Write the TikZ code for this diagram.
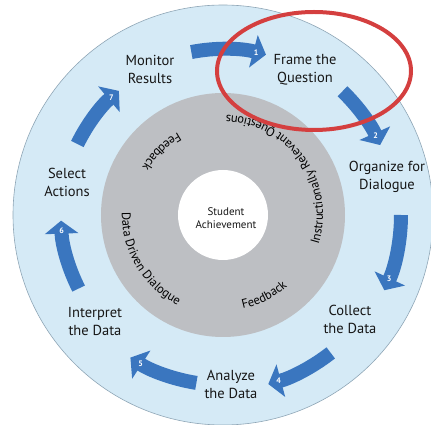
\documentclass[tikz,border=0pt]{standalone}
\usepackage{fontspec}
\setmainfont{PT Sans}
\usetikzlibrary{arrows.meta, decorations.text}

\definecolor{discblue}{HTML}{D5EAF6}
\definecolor{discedge}{HTML}{8FA6B6}
\definecolor{ringgray}{HTML}{BDBFC3}
\definecolor{stepblue}{HTML}{3A76BF}
\definecolor{markred}{HTML}{D43F3F}
\definecolor{labelink}{HTML}{161616}

\tikzset{
	steplabel/.style = {align = center, text = labelink, font = \fontsize{14.5}{18}\selectfont},
	cyclearrow/.style = {draw = stepblue, line width = 14pt, -{Triangle[length = 13pt, width = 33pt]}},
	stepnum/.style = {text = white, font = \fontsize{8}{8}\selectfont\bfseries, inner sep = 0pt},
	ringtext/.style = {decorate, decoration = {text along path, text align = center, text color = black}}
}

\begin{document}
\begin{tikzpicture}[x = 1pt, y = 1pt]

	\useasboundingbox (-223, -210) rectangle (208, 215);
	
	% Discs
	
	\fill [discblue, draw = discedge, line width = 0.6pt] (0, 0) circle (210pt);
	\fill [ringgray] (0, 0) circle (122pt);
	\fill [white] (0, 0) circle (45pt);
	
	% Text round the gray ring
	
	\path [ringtext, decoration = {text = {|\fontsize{12.5}{14}\selectfont|Instructionally Relevant Questions}}]
		(-55:100pt) arc [start angle = -55, end angle = 126, radius = 100pt];
	\path [ringtext, decoration = {text = {|\fontsize{12.5}{14}\selectfont|Feedback}}]
		(94:94pt) arc [start angle = 94, end angle = 174, radius = 94pt];
	\path [ringtext, decoration = {text = {|\fontsize{12.5}{14}\selectfont|Data Driven Dialogue}}]
		(150:101pt) arc [start angle = 150, end angle = 272, radius = 101pt];
	\path [ringtext, decoration = {text = {|\fontsize{12.5}{14}\selectfont|Feedback}}]
		(-103:96pt) arc [start angle = -103, end angle = -23, radius = 96pt];
	
	% Centre
	
	\node (student) [align = center, text = labelink, font = \fontsize{11}{13}\selectfont] at (3, -3) {Student\\Achievement};
	
	% Steps of the cycle
	
	\node (frame) [steplabel] at (82, 145) {Frame the\\Question};
	\node (organize) [steplabel] at (164, 38) {Organize for\\Dialogue};
	\node (collect) [steplabel] at (127, -104) {Collect\\the Data};
	\node (analyze) [steplabel] at (8, -169) {Analyze\\the Data};
	\node (interpret) [steplabel] at (-128, -107) {Interpret\\the Data};
	\node (select) [steplabel] at (-156, 33) {Select\\Actions};
	\node (monitor) [steplabel] at (-73, 146) {Monitor\\Results};
	
	% Arrows between the steps
	
	\coordinate (a1) at (101:166pt);
	\coordinate (a2) at (46:172pt);
	\coordinate (a3) at (0:178pt);
	\coordinate (a4) at (-52:175pt);
	\coordinate (a5) at (-99:170pt);
	\coordinate (a6) at (-153:162pt);
	\coordinate (a7) at (154:162pt);
	
	\draw [cyclearrow] (a1) arc [start angle = 101, end angle = 75, radius = 166pt];
	\draw [cyclearrow] (a2) arc [start angle = 46, end angle = 24, radius = 172pt];
	\draw [cyclearrow] (a3) arc [start angle = 0, end angle = -25, radius = 178pt];
	\draw [cyclearrow] (a4) arc [start angle = -52, end angle = -75, radius = 175pt];
	\draw [cyclearrow] (a5) arc [start angle = -99, end angle = -123, radius = 170pt];
	\draw [cyclearrow] (a6) arc [start angle = -153, end angle = -178, radius = 162pt];
	\draw [cyclearrow] (a7) arc [start angle = 154, end angle = 130, radius = 162pt];
	
	% Step numbers
	
	\node (n1) [stepnum] at (78.5:166pt) {1};
	\node (n2) [stepnum] at (27.5:172pt) {2};
	\node (n3) [stepnum] at (-21:178pt) {3};
	\node (n4) [stepnum] at (-71.5:175pt) {4};
	\node (n5) [stepnum] at (-119:170pt) {5};
	\node (n6) [stepnum] at (-174.5:162pt) {6};
	\node (n7) [stepnum] at (133.5:162pt) {7};
	
	% Highlight
	
	\draw [markred, line width = 4pt] (91, 144) ellipse [x radius = 97pt, y radius = 59pt];

\end{tikzpicture}
\end{document}
